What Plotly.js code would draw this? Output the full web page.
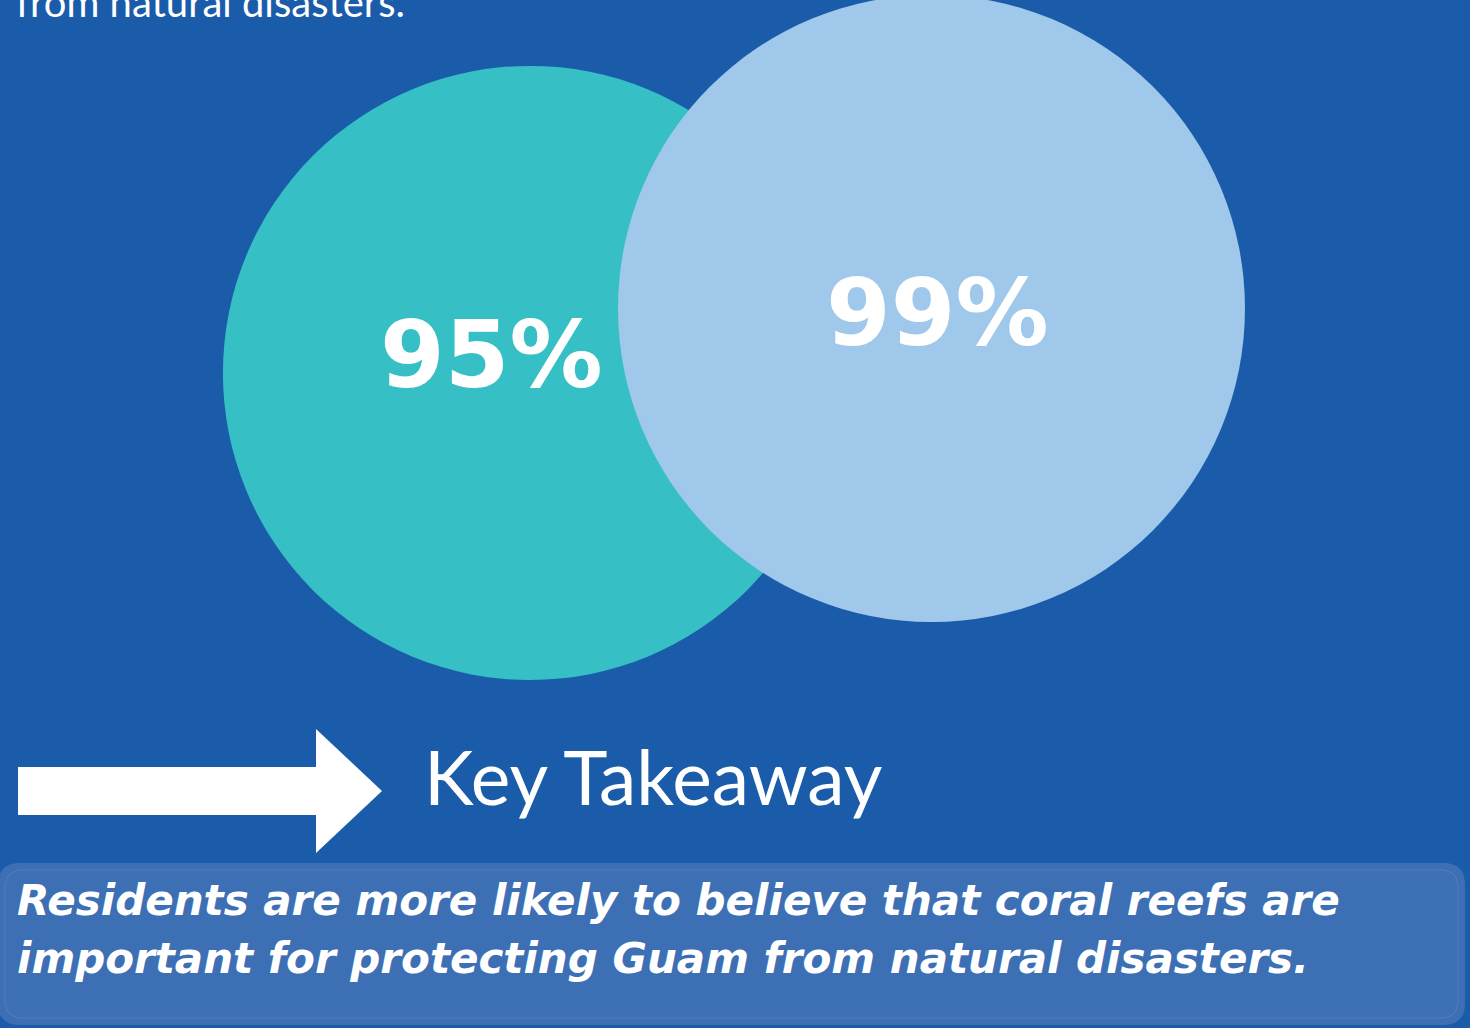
<!DOCTYPE html>
<html><head><meta charset="utf-8">
<script src="https://cdn.plot.ly/plotly-3.0.1.min.js"></script>
<style>html,body{margin:0;padding:0;background:#1a5ca9;overflow:hidden}#chart{width:1470px;height:1028px}</style>
</head><body><div id="chart"></div>
<script>
// ---- data ----
const groups = ["Non-residents", "Residents"];
const values = [95, 99];
const labels = ["95%", "99%"];
const colors = ["#36bfc5", "#a0c8ea"];
const headerText = "from natural disasters.";
const takeawayTitle = "Key Takeaway";
const takeawayLines = [
  "Residents are more likely to believe that coral reefs are",
  "important for protecting Guam from natural disasters."
];

// ---- helpers (layout only) ----
const W = 1470, H = 1028;
const px = x => x / W, py = y => 1 - y / H;
function pathFrom(cmds) {
  return cmds.map(c => {
    if (c[0] === 'Z') return 'Z';
    if (c[0] === 'Q') return 'Q ' + px(c[1]) + ',' + py(c[2]) + ' ' + px(c[3]) + ',' + py(c[4]);
    return c[0] + ' ' + px(c[1]) + ',' + py(c[2]);
  }).join(' ');
}
function roundRect(x0, y0, x1, y1, r) {
  return pathFrom([
    ['M', x0 + r, y0], ['L', x1 - r, y0], ['Q', x1, y0, x1, y0 + r],
    ['L', x1, y1 - r], ['Q', x1, y1, x1 - r, y1], ['L', x0 + r, y1],
    ['Q', x0, y1, x0, y1 - r], ['L', x0, y0 + r], ['Q', x0, y0, x0 + r, y0], ['Z']
  ]);
}

const trace = {
  type: 'scatter', mode: 'markers',
  x: groups, y: values,
  marker: {
    size: values, sizemode: 'area', sizeref: 0.0005037,
    color: colors, opacity: 1, line: {width: 0}
  },
  hoverinfo: 'skip', showlegend: false
};

const shifts = [[-38, 18], [6, -5]];
const annotations = values.map((v, i) => ({
  xref: 'x', yref: 'y', x: groups[i], y: v, text: labels[i], showarrow: false,
  xshift: shifts[i][0], yshift: shifts[i][1],
  font: {family: 'DejaVu Sans', size: 93, weight: 700, color: '#ffffff'}
}));
annotations.push({
  xref: 'paper', yref: 'paper', x: px(14), y: py(2), xanchor: 'left', yanchor: 'middle',
  text: headerText, showarrow: false,
  font: {family: 'Lato', size: 40, color: '#ffffff'}
});
annotations.push({
  xref: 'paper', yref: 'paper', x: px(422), y: py(776), xanchor: 'left', yanchor: 'middle',
  text: takeawayTitle, showarrow: false,
  font: {family: 'Lato', size: 75, color: '#ffffff'}
});
const lineCenters = [900.5, 958.5];
takeawayLines.forEach((t, i) => annotations.push({
  xref: 'paper', yref: 'paper', x: px(15), y: py(lineCenters[i]), xanchor: 'left', yanchor: 'middle',
  text: t, showarrow: false, align: 'left',
  font: {family: 'DejaVu Sans', size: 42, weight: 700, style: 'italic', color: '#ffffff'}
}));

const shapes = [
  {type: 'path', xref: 'paper', yref: 'paper', layer: 'above',
   path: pathFrom([['M', 18, 767], ['L', 316, 767], ['L', 316, 729], ['L', 382, 791], ['L', 316, 853], ['L', 316, 815], ['L', 18, 815], ['Z']]),
   fillcolor: '#ffffff', line: {width: 0}},
  {type: 'path', xref: 'paper', yref: 'paper', layer: 'below',
   path: roundRect(-2, 863, 1465, 1025, 22),
   fillcolor: '#3d6fb5', line: {width: 0}},
  {type: 'path', xref: 'paper', yref: 'paper', layer: 'below',
   path: roundRect(5, 870, 1458, 1018, 18),
   fillcolor: 'rgba(0,0,0,0)', line: {width: 1.5, color: 'rgba(255,255,255,0.07)'}}
];

const layout = {
  width: W, height: H,
  margin: {l: 0, r: 0, t: 0, b: 0, pad: 0},
  paper_bgcolor: '#1a5ca9', plot_bgcolor: '#1a5ca9',
  xaxis: {type: 'category', range: [-1.3200, 2.3412], visible: false, fixedrange: true},
  yaxis: {range: [54.38, 118.13], visible: false, fixedrange: true},
  showlegend: false,
  annotations: annotations, shapes: shapes
};

Plotly.newPlot('chart', [trace], layout, {displayModeBar: false, staticPlot: true});
</script>
</body></html>
